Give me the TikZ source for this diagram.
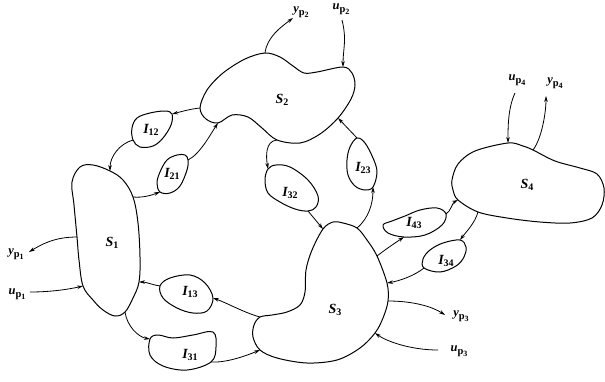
\documentclass[tikz,border=0pt]{standalone}
\usepackage{fontspec}
\setmainfont{Liberation Serif}
\usetikzlibrary{arrows.meta}

% subsystem / interconnection label: italic letter with bold index
\newcommand{\sysl}[2]{{\fontsize{14}{14}\selectfont\bfseries\itshape #1}\raisebox{-0.5ex}{\fontsize{10}{10}\selectfont\bfseries #2}}
% external port label: italic letter, bold p with index
\newcommand{\portl}[2]{{\fontsize{12.5}{12.5}\selectfont\bfseries\itshape #1}\raisebox{-0.55ex}{\fontsize{10.5}{10.5}\selectfont\bfseries p\raisebox{-0.45ex}{\fontsize{8}{8}\selectfont #2}}}

\begin{document}
\begin{tikzpicture}[x=1pt,y=-1pt,
  blob/.style={draw, line width=1pt, line join=round},
  link/.style={line width=0.8pt, -{Stealth[length=6pt,width=3.6pt]}},
  lbl/.style={inner sep=0pt}]
\useasboundingbox (0,0) rectangle (605,381);

% ---- connection points on the subsystem S2 ----
\coordinate (s2y) at (265,53);
\coordinate (s2u) at (343,67);
\coordinate (s2r) at (338,118);
\coordinate (s2n) at (277,140);
\coordinate (s2b) at (218,123);
\coordinate (s2l) at (200,108);
% ---- S1 ----
\coordinate (s1t) at (110,171);
\coordinate (s1r) at (133,197);
\coordinate (s1i) at (139,282);
\coordinate (s1b) at (125,312);
\coordinate (s1u) at (83,286);
\coordinate (s1y) at (77,237);
% ---- S3 ----
\coordinate (s3t) at (323,229);
\coordinate (s3tr) at (357,228);
\coordinate (s3a) at (377,256);
\coordinate (s3c) at (387,283);
\coordinate (s3y) at (388,301);
\coordinate (s3u) at (375,333);
\coordinate (s3bl) at (260,350);
\coordinate (s3l) at (260,317);
% ---- S4 ----
\coordinate (s4u) at (508,143);
\coordinate (s4y) at (533,150);
\coordinate (s4b) at (478,212);
\coordinate (s4l) at (458,200);
% ---- interconnections ----
\coordinate (i12a) at (172,114);
\coordinate (i12b) at (133,140);
\coordinate (i21a) at (188,160);
\coordinate (i21b) at (160,192);
\coordinate (i32a) at (268,169);
\coordinate (i32b) at (308,211);
\coordinate (i23a) at (357,138);
\coordinate (i23b) at (373,187);
\coordinate (i43a) at (404,237);
\coordinate (i43b) at (446,214);
\coordinate (i34a) at (460,240);
\coordinate (i34b) at (424,268);
\coordinate (i13a) at (160,286);
\coordinate (i13b) at (213,298);
\coordinate (i31a) at (150,339);
\coordinate (i31b) at (211,362);
% ---- free ends of the external signals ----
\coordinate (yp2) at (293,18);
\coordinate (up2) at (342,20);
\coordinate (up4) at (515,93);
\coordinate (yp4) at (546,96);
\coordinate (yp1) at (29,252);
\coordinate (up1) at (30,292);
\coordinate (yp3) at (445,315);
\coordinate (up3) at (438,350);

% ---- subsystem outlines ----
\draw[blob] plot[smooth cycle, tension=0.55] coordinates {
  (s2y) (280,57) (293,66) (304,73) (317,72) (s2u) (352,73) (355,85) (351,99)
  (s2r) (320,134) (300,143) (s2n) (262,128) (248,117) (232,115) (s2b)
  (206,119) (s2l) (207,90) (223,73) (245,59)};
\draw[blob] plot[smooth cycle, tension=0.6] coordinates {
  (80,167) (93,165) (s1t) (123,180) (s1r) (138,223) (140,257) (s1i) (133,298)
  (s1b) (115,316) (103,310) (93,300) (s1u) (79,260) (s1y) (74,205) (72,182)};
\draw[blob] plot[smooth cycle, tension=0.55] coordinates {
  (333,222) (343,223) (s3tr) (367,240) (s3a) (s3c) (s3y) (383,318) (s3u)
  (360,348) (337,360) (307,363) (277,358) (s3bl) (253,337) (254,325) (s3l)
  (272,315) (287,312) (300,305) (305,292) (306,270) (312,250) (s3t)};
\draw[blob] plot[smooth cycle, tension=0.55] coordinates {
  (452,180) (458,164) (475,151) (s4u) (523,146) (s4y) (555,161) (580,168)
  (597,174) (604,188) (602,205) (592,218) (570,223) (540,222) (507,218)
  (s4b) (s4l) (453,190)};

% ---- interconnection outlines ----
\draw[blob] plot[smooth cycle, tension=0.6] coordinates {
  (137,118) (150,113) (165,111) (i12a) (171,125) (163,138) (153,146) (140,147)
  (i12b) (132,128)};
\draw[blob] plot[smooth cycle, tension=0.6] coordinates {
  (177,155) (185,155) (i21a) (187,170) (180,186) (170,193) (i21b) (157,183)
  (160,172) (167,160)};
\draw[blob] plot[smooth cycle, tension=0.6] coordinates {
  (276,165) (290,167) (308,180) (318,196) (316,207) (i32b) (295,209) (280,202)
  (268,193) (265,180) (i32a)};
\draw[blob] plot[smooth cycle, tension=0.6] coordinates {
  (i23a) (365,143) (373,158) (377,172) (i23b) (365,190) (355,186) (348,175)
  (347,160) (350,147)};
\draw[blob] plot[smooth cycle, tension=0.6] coordinates {
  (383,225) (392,221) (405,216) (420,210) (437,208) (i43b) (442,225) (425,235)
  (i43a) (388,233)};
\draw[blob] plot[smooth cycle, tension=0.6] coordinates {
  (i34a) (466,247) (464,257) (456,266) (440,272) (i34b) (423,259) (430,250)
  (443,243)};
\draw[blob] plot[smooth cycle, tension=0.6] coordinates {
  (i13a) (170,278) (190,275) (205,283) (i13b) (207,311) (193,313) (177,308)
  (163,298)};
\draw[blob] plot[smooth cycle, tension=0.6] coordinates {
  (i31a) (158,335) (173,338) (193,335) (213,332) (216,347) (i31b) (187,370)
  (163,366) (150,355)};

% ---- interconnecting signals ----
\draw[link] (s2l) .. controls +(-10,1) and +(8,-2) .. (i12a);
\draw[link] (i12b) .. controls +(-14,4) and +(0,-14) .. (s1t);
\draw[link] (s1r) .. controls +(10,1) and +(-8,3) .. (i21b);
\draw[link] (i21a) .. controls +(12,-6) and +(-8,12) .. (s2b);
\draw[link] (s2n) .. controls +(-12,1) and +(-2,-12) .. (i32a);
\draw[link] (i32b) -- (s3t);
\draw[link] (i23a) -- (s2r);
\draw[link] (s3tr) .. controls +(12,-10) and +(0,16) .. (i23b);
\draw[link] (s3a) .. controls +(9,-7) and +(-9,6) .. (i43a);
\draw[link] (i43b) .. controls +(5,-3) and +(-6,3) .. (s4l);
\draw[link] (s4b) .. controls +(-3,11) and +(6,-8) .. (i34a);
\draw[link] (i34b) .. controls +(-10,8) and +(12,-2) .. (s3c);
\draw[link] (s3l) .. controls +(-15,-4) and +(14,5) .. (i13b);
\draw[link] (i13a) .. controls +(-7,-1) and +(7,0) .. (s1i);
\draw[link] (s1b) .. controls +(2,14) and +(-12,-2) .. (i31a);
\draw[link] (i31b) .. controls +(16,1) and +(-12,5) .. (s3bl);

% ---- external inputs and outputs ----
\draw[link] (s2y) .. controls +(2,-16) and +(-12,9) .. (yp2);
\draw[link] (up2) .. controls +(5,20) and +(0,-18) .. (s2u);
\draw[link] (up4) .. controls +(-7,15) and +(0,-16) .. (s4u);
\draw[link] (s4y) .. controls +(9,-12) and +(0,16) .. (yp4);
\draw[link] (s1y) .. controls +(-22,0) and +(13,-8) .. (yp1);
\draw[link] (up1) .. controls +(22,0) and +(-13,3) .. (s1u);
\draw[link] (s3y) .. controls +(26,0) and +(-12,-8) .. (yp3);
\draw[link] (up3) .. controls +(-28,0) and +(11,8) .. (s3u);

% ---- labels ----
\node[lbl] (ls1) at (112,243) {\sysl{S}{1}};
\node[lbl] (ls2) at (282,100) {\sysl{S}{2}};
\node[lbl] (ls3) at (335,310) {\sysl{S}{3}};
\node[lbl] (ls4) at (527,185) {\sysl{S}{4}};
\node[lbl] (li12) at (151,130) {\sysl{I}{12}};
\node[lbl] (li21) at (172,174) {\sysl{I}{21}};
\node[lbl] (li32) at (290,193) {\sysl{I}{32}};
\node[lbl] (li23) at (363,168) {\sysl{I}{23}};
\node[lbl] (li43) at (414,223) {\sysl{I}{43}};
\node[lbl] (li34) at (446,261) {\sysl{I}{34}};
\node[lbl] (li13) at (190,292) {\sysl{I}{13}};
\node[lbl] (li31) at (190,355) {\sysl{I}{31}};
\node[lbl] (lyp2) at (301,12) {\portl{y}{2}};
\node[lbl] (lup2) at (341,9) {\portl{u}{2}};
\node[lbl] (lup4) at (517,80) {\portl{u}{4}};
\node[lbl] (lyp4) at (555,83) {\portl{y}{4}};
\node[lbl] (lyp1) at (16,254) {\portl{y}{1}};
\node[lbl] (lup1) at (17,294) {\portl{u}{1}};
\node[lbl] (lyp3) at (461,316) {\portl{y}{3}};
\node[lbl] (lup3) at (459,351) {\portl{u}{3}};
\end{tikzpicture}
\end{document}
